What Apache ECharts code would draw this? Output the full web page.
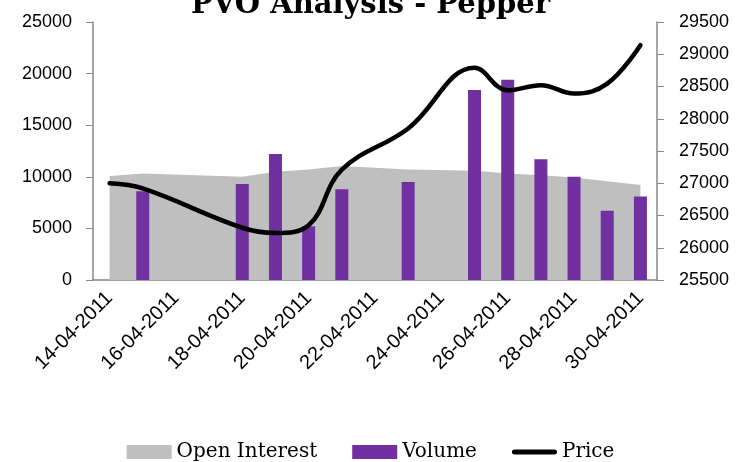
<!DOCTYPE html>
<html>
<head>
<meta charset="utf-8">
<script src="https://cdn.jsdelivr.net/npm/echarts@6/dist/echarts.min.js"></script>
<style>
  html, body { margin: 0; padding: 0; background: #fff; }
  #main { width: 741px; height: 462px; }
</style>
</head>
<body>
<div id="main"></div>
<script>
// calendar days on the date axis (one slot per day)
var dates = ['14-04-2011', '15-04-2011', '16-04-2011', '17-04-2011', '18-04-2011', '19-04-2011',
  '20-04-2011', '21-04-2011', '22-04-2011', '23-04-2011', '24-04-2011', '25-04-2011',
  '26-04-2011', '27-04-2011', '28-04-2011', '29-04-2011', '30-04-2011'];

// null = no trading that day
var openInterest = [10070, 10330, null, null, 10000, 10480, 10710, 11050, null, 10700, null, 10580,
  10320, 10160, 9940, 9580, 9200];
var volume = [null, 8600, null, null, 9300, 12200, 5200, 8800, null, 9500, null, 18400,
  19400, 11700, 10000, 6700, 8100];
var price = [27000, 26920, null, null, 26310, 26230, 26350, 27210, null, 27850, null, 28790,
  28440, 28520, 28390, 28545, 29140];

var chart = echarts.init(document.getElementById('main'));

var axisColor = '#888888';
var serif = '"DejaVu Serif", serif';
var sans = '"Liberation Sans", Arial, sans-serif';
var plain = function (v) { return String(v); };

var option = {
  animation: false,
  title: {
    text: 'PVO Analysis - Pepper',
    left: 'center',
    top: -14,
    textStyle: { fontFamily: serif, fontWeight: 'bold', fontSize: 29, color: '#000' }
  },
  legend: {
    top: 437,
    left: 'center',
    itemWidth: 45,
    itemHeight: 14,
    itemGap: 35,
    textStyle: { fontFamily: serif, fontSize: 20, color: '#000' },
    data: [
      { name: 'Open Interest', icon: 'rect' },
      { name: 'Volume', icon: 'rect' },
      { name: 'Price', icon: 'path://M2.5,0H42.5A2.5,2.5,0,0,1,42.5,5H2.5A2.5,2.5,0,0,1,2.5,0Z' }
    ]
  },
  grid: { left: 93, right: 84, top: 22, height: 258 },
  xAxis: {
    type: 'category',
    data: dates,
    boundaryGap: true,
    axisLine: { lineStyle: { color: axisColor, width: 1.5 } },
    axisTick: { interval: 1, length: 7, lineStyle: { color: axisColor } },
    axisLabel: {
      interval: 1,
      rotate: 45,
      margin: 15,
      fontFamily: sans,
      fontSize: 20,
      color: '#000'
    },
    splitLine: { show: false }
  },
  yAxis: [
    {
      type: 'value',
      min: 0,
      max: 25000,
      interval: 5000,
      axisLine: { show: true, lineStyle: { color: axisColor, width: 1.5 } },
      axisTick: { show: true, length: 7, lineStyle: { color: axisColor } },
      axisLabel: { margin: 21, fontFamily: sans, fontSize: 18, color: '#000', formatter: plain },
      splitLine: { show: false }
    },
    {
      type: 'value',
      min: 25500,
      max: 29500,
      interval: 500,
      axisLine: { show: true, lineStyle: { color: axisColor, width: 1.5 } },
      axisTick: { show: true, length: 7, lineStyle: { color: axisColor } },
      axisLabel: { margin: 22, fontFamily: sans, fontSize: 18, color: '#000', formatter: plain },
      splitLine: { show: false }
    }
  ],
  series: [
    {
      name: 'Open Interest',
      type: 'line',
      yAxisIndex: 0,
      data: openInterest,
      connectNulls: true,
      symbol: 'none',
      itemStyle: { color: '#BFBFBF' },
      lineStyle: { width: 0 },
      areaStyle: { color: '#BFBFBF', opacity: 1 },
      z: 1
    },
    {
      name: 'Volume',
      type: 'bar',
      yAxisIndex: 0,
      data: volume,
      barWidth: 13,
      itemStyle: { color: '#7030A0' },
      z: 2
    },
    {
      name: 'Price',
      type: 'line',
      yAxisIndex: 1,
      data: price,
      connectNulls: true,
      smooth: 0.4,
      symbol: 'none',
      itemStyle: { color: '#000' },
      lineStyle: { color: '#000', width: 4.5, cap: 'round' },
      z: 3
    }
  ]
};

chart.setOption(option);
</script>
</body>
</html>
